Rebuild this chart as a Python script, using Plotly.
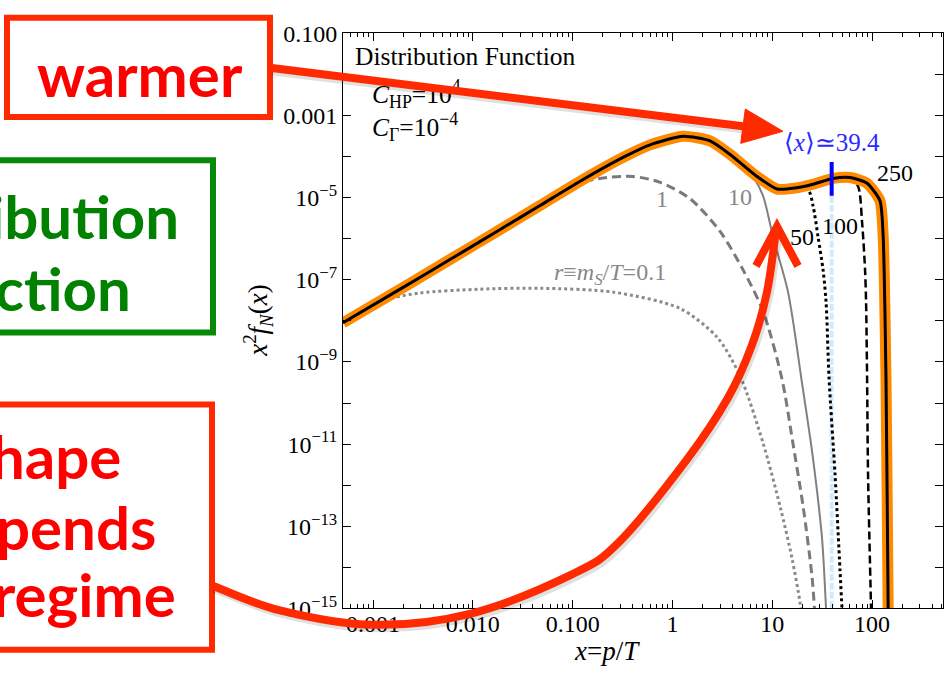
import numpy as np
import plotly.graph_objects as go

W, H = 952, 684

# ---------------- data (x = p/T, y = x^2 f_N(x)) ----------------
# outermost curve, r = 250
x_r250 = [5.0e-4, 1.87e-3, 5.9e-3, 0.0188, 0.0471, 0.119, 0.320, 0.597, 1.28, 2.38,
          3.78, 7.04, 11.2, 16.9, 25.6, 40.6, 60.2, 89.2, 120, 129, 138, 145, 148]
y_r250 = [8.95e-9, 5.9e-8, 3.1e-7, 1.67e-6, 6.4e-6, 2.5e-5, 9.5e-5, 1.92e-4, 3.1e-4, 2.39e-4,
          1.12e-4, 3.25e-5, 1.61e-5, 1.70e-5, 2.11e-5, 2.92e-5, 3.08e-5, 2.22e-5, 8.4e-6, 1.28e-6,
          3.9e-10, 1e-15, 1e-17]

# r = 0.1
x_r01 = [5.0e-4, 8.3e-4, 1.48e-3, 2.96e-3, 0.0118, 0.0471, 0.254, 1.19, 2.80, 4.75,
         8.09, 12.0, 15.8, 19.0, 20.4]
y_r01 = [8.95e-9, 1.81e-8, 3.45e-8, 4.77e-8, 5.9e-8, 6.2e-8, 5.0e-8, 2.0e-8, 4.0e-9, 4.6e-10,
         1.06e-11, 3.0e-13, 1.64e-14, 1.38e-15, 3.2e-16]

# r = 1
x_r1 = [5.0e-4, 5.9e-3, 0.0471, 0.101, 0.188, 0.403, 0.751, 1.50, 3.00, 5.10,
        8.09, 12.5, 16.1, 20.4, 25.1, 26.9]
y_r1 = [8.95e-9, 3.1e-7, 6.4e-6, 2.0e-5, 2.92e-5, 3.25e-5, 2.35e-5, 9.4e-6, 1.50e-6, 1.74e-7,
        1.71e-8, 3.9e-10, 1.06e-11, 3.0e-13, 5.6e-15, 5.5e-16]

# r = 10 (follows the r = 250 curve up to x ~ 3.8)
x_r10 = [5.0e-4, 1.87e-3, 5.9e-3, 0.0188, 0.0471, 0.119, 0.320, 0.597, 1.28, 2.38, 3.78,
         5.33, 6.42, 8.09, 10.2, 14.4, 19.9, 25.6, 31.6, 34.6, 35.4]
y_r10 = [8.95e-9, 5.9e-8, 3.1e-7, 1.67e-6, 6.4e-6, 2.5e-5, 9.5e-5, 1.92e-4, 3.1e-4, 2.39e-4, 1.12e-4,
         5.6e-5, 3.25e-5, 1.10e-5, 1.09e-6, 5.0e-8, 3.0e-10, 4.5e-12, 4.8e-14, 1e-15, 3.2e-16]

# r = 50 (branches off near x ~ 17)
x_r50 = [1.28, 2.38, 3.78, 7.04, 11.2, 16.9, 22.9, 25.6, 28.8, 32.3, 34.6, 37.1, 42.6, 47.8, 50.0, 51.2]
y_r50 = [3.1e-4, 2.39e-4, 1.12e-4, 3.25e-5, 1.61e-5, 1.70e-5, 1.53e-5, 6.4e-6, 1.09e-6, 1.74e-7,
         2.94e-8, 3.9e-10, 1.8e-12, 8.2e-15, 1e-15, 3.2e-16]

# r = 100 (branches off near x ~ 60)
x_r100 = [11.2, 16.9, 25.6, 40.6, 60.2, 72.4, 79.4, 85.1, 87.1, 89.2, 91.2, 97.7, 98.5]
y_r100 = [1.61e-5, 1.70e-5, 2.11e-5, 2.92e-5, 3.08e-5, 1.89e-5, 2.58e-6, 1.74e-7, 2.94e-8, 3.9e-10,
          1.8e-12, 1e-15, 3.2e-16]

# mean momentum marker
x_mean = 39.4
mean_tick_y = [1.10e-5, 7.3e-5]
mean_guide_y = [1.10e-5, 1e-16]

# curve labels
label_text = ["1", "10", "50", "100", "250",
              "<i>r</i>≡<i>m</i><sub><i>S</i></sub>/<i>T</i>=0.1"]
label_color = ["#888888", "#888888", "black", "black", "black", "#888888"]

x_tickvals = [1e-3, 1e-2, 1e-1, 1, 10, 100]
x_ticktext = ["0.001", "0.010", "0.100", "1", "10", "100"]
y_tickvals = [1e-1, 1e-3, 1e-5, 1e-7, 1e-9, 1e-11, 1e-13, 1e-15]
y_ticktext = ["0.100", "0.001", "10<sup>−5</sup>", "10<sup>−7</sup>", "10<sup>−9</sup>",
              "10<sup>−11</sup>", "10<sup>−13</sup>", "10<sup>−15</sup>"]

# ---------------- figure ----------------
SERIF = "Liberation Serif, Times New Roman, serif"
fig = go.Figure()

# where the curve labels sit (data coordinates)
label_x = [0.787, 4.75, 19.9, 47.8, 170, 0.237]
label_y = [8.4e-6, 9.4e-6, 9.8e-7, 1.86e-6, 3.6e-5, 1.40e-7]


def curve(xs, ys, color, width, dash="solid", smooth=0.8):
    fig.add_trace(go.Scatter(x=xs, y=ys, mode="lines",
                             line=dict(color=color, width=width, dash=dash,
                                       shape="spline", smoothing=smooth),
                             hoverinfo="skip", showlegend=False))


curve(x_r01, y_r01, "#8a8a8a", 3, "3px,3px")
curve(x_r1, y_r1, "#7a7a7a", 3, "9px,5px")
curve(x_r10, y_r10, "#808080", 2)
fig.add_trace(go.Scatter(x=[x_mean, x_mean], y=mean_guide_y, mode="lines",
                         line=dict(color="#d4e8fb", width=4, dash="7px,2px"),
                         hoverinfo="skip", showlegend=False))
curve(x_r50, y_r50, "black", 3, "3px,3px")
curve(x_r100, y_r100, "black", 2.5, "8px,4px")
curve(x_r250, y_r250, "#ff8a00", 11, smooth=0.6)
curve(x_r250, y_r250, "black", 3, smooth=0.6)
fig.add_trace(go.Scatter(x=[x_mean, x_mean], y=mean_tick_y, mode="lines",
                         line=dict(color="#0000ff", width=4),
                         hoverinfo="skip", showlegend=False))

for txt, lx, ly, col in zip(label_text, label_x, label_y, label_color):
    fig.add_trace(go.Scatter(x=[lx], y=[ly], mode="text", text=[txt],
                             textposition="middle center",
                             textfont=dict(family=SERIF, size=24, color=col),
                             hoverinfo="skip", showlegend=False))

fig.add_trace(go.Scatter(x=[x_mean], y=[1.9e-4], mode="text",
                         text=["⟨<i>x</i>⟩≃39.4"], textposition="middle center",
                         textfont=dict(family=SERIF, size=25, color="#2a2aff"),
                         hoverinfo="skip", showlegend=False))

# panel texts (kept in the trace layer so the callout arrow passes over them)
panel_x = [6.6e-4, 9.77e-4, 9.77e-4]
panel_y = [0.0246, 2.85e-3, 4.56e-4]
panel_txt = ["Distribution Function",
             "<i>C</i><sub>HP</sub>=10<sup>4</sup>",
             "<i>C</i><sub>Γ</sub>=10<sup>−4</sup>"]
fig.add_trace(go.Scatter(x=panel_x, y=panel_y, mode="text", text=panel_txt,
                         textposition="middle right",
                         textfont=dict(family=SERIF, size=25.5, color="black"),
                         hoverinfo="skip", showlegend=False))

# ---------------- axes ----------------
x0px, x1px, y0px, y1px = 343, 943, 21, 619
x_minor = [k * 10.0 ** d for d in range(-4, 3) for k in range(2, 10)
           if 5e-4 < k * 10.0 ** d < 514]
y_minor = [10.0 ** e for e in range(-14, 0, 2)]

axis_common = dict(showline=True, linecolor="black", linewidth=1, mirror="allticks",
                   ticks="inside", ticklen=8, tickwidth=1, tickcolor="black",
                   showgrid=False, zeroline=False,
                   tickfont=dict(family=SERIF, size=24, color="black"))

fig.update_xaxes(type="log", range=[np.log10(5e-4), np.log10(5e-4) + 600 / 99.8],
                 domain=[x0px / W, x1px / W], ticklabelstandoff=-6,
                 tickmode="array", tickvals=x_tickvals, ticktext=x_ticktext,
                 minor=dict(tickvals=x_minor, ticks="inside", ticklen=4, tickcolor="black"),
                 **axis_common)
fig.update_yaxes(type="log", range=[-15, -1],
                 domain=[1 - y1px / H, 1 - y0px / H],
                 tickmode="array", tickvals=y_tickvals, ticktext=y_ticktext,
                 minor=dict(tickvals=y_minor, ticks="inside", ticklen=8, tickcolor="black"),
                 **axis_common)


def P(px, py):
    return px / W, 1 - py / H


def path_str(pts):
    return "M " + " L ".join(f"{P(a, b)[0]:.5f},{P(a, b)[1]:.5f}" for a, b in pts)


def smooth_path(pts):
    pts = [np.array(p, float) for p in pts]
    n = len(pts)
    s = "M {:.5f},{:.5f}".format(*P(*pts[0]))
    for i in range(n - 1):
        p0 = pts[i - 1] if i > 0 else pts[i]
        p1, p2 = pts[i], pts[i + 1]
        p3 = pts[i + 2] if i + 2 < n else pts[i + 1]
        c1 = p1 + (p2 - p0) / 6
        c2 = p2 - (p3 - p1) / 6
        s += " C {:.5f},{:.5f} {:.5f},{:.5f} {:.5f},{:.5f}".format(*P(*c1), *P(*c2), *P(*p2))
    return s


RED = "#ff2a00"
GREEN = "#078a07"
shapes = []

# callout boxes
for (a, b, c, d), col in [((7, 5, 270, 108), RED), ((-20, 153, 213, 332), GREEN),
                          ((-20, 407, 212, 662), RED)]:
    xa, ya = P(a, b)
    xb, yb = P(c, d)
    shapes.append(dict(type="rect", xref="paper", yref="paper", x0=xa, x1=xb, y0=yb, y1=ya,
                       line=dict(color=col, width=6), fillcolor="rgba(0,0,0,0)", layer="above"))

# straight arrow from "warmer"
warm_line = [(270, 57), (745, 118)]
warm_head = [(783, 123), (745.3, 99.8), (740.7, 135.5)]
shapes.append(dict(type="path", xref="paper", yref="paper",
                   path=path_str([(x + 2, y + 3) for x, y in warm_line]),
                   line=dict(color="rgba(0,0,0,0.12)", width=9), layer="above"))
shapes.append(dict(type="path", xref="paper", yref="paper", path=path_str(warm_line),
                   line=dict(color=RED, width=8), layer="above"))
shapes.append(dict(type="path", xref="paper", yref="paper", path=path_str(warm_head) + " Z",
                   line=dict(color=RED, width=1), fillcolor=RED, layer="above"))

# curved arrow from the regime box
curve_pts = [(212, 595), (280, 621), (373, 636), (472, 624), (573, 583), (620, 549),
             (687, 464), (728, 400), (752, 345), (767, 290), (776, 226)]
shapes.append(dict(type="path", xref="paper", yref="paper",
                   path=smooth_path([(x + 2, y + 3) for x, y in curve_pts]),
                   line=dict(color="rgba(0,0,0,0.12)", width=9), layer="above"))
shapes.append(dict(type="path", xref="paper", yref="paper", path=smooth_path(curve_pts),
                   line=dict(color=RED, width=8), layer="above"))
shapes.append(dict(type="path", xref="paper", yref="paper",
                   path=path_str([(756, 263), (777, 222), (798, 263)]),
                   line=dict(color=RED, width=8), layer="above"))

# ---------------- annotations ----------------
BOLD = dict(family="Lato, Open Sans, sans-serif", size=60, weight="bold")
ann = []


def box_text(txt, px_anchor, baseline, color, anchor="right"):
    xa, ya = P(px_anchor, baseline - 19)
    ann.append(dict(text=txt, x=xa, y=ya, xref="paper", yref="paper", xanchor=anchor,
                    yanchor="middle", showarrow=False, font=dict(color=color, **BOLD)))


box_text("warmer", 140, 82, "#ff0000", anchor="center")
box_text("ibution", 181, 230, "#008200")
box_text("ction", 133, 305, "#008200")
box_text("hape", 123, 480, "#ff0000")
box_text("pends", 158, 553, "#ff0000")
box_text("regime", 178, 623, "#ff0000")

xa, ya = P(258, 320)
ann.append(dict(text="<i>x</i><sup>2</sup><i>f</i><sub><i>N</i></sub>(<i>x</i>)", x=xa, y=ya,
                xref="paper", yref="paper", xanchor="center", yanchor="middle",
                textangle=-90, showarrow=False,
                font=dict(family=SERIF, size=27, color="black")))
xa, ya = P(607, 663)
ann.append(dict(text="<i>x</i>=<i>p</i>/<i>T</i>", x=xa, y=ya, xref="paper", yref="paper",
                xanchor="center", yanchor="middle", showarrow=False,
                font=dict(family=SERIF, size=27, color="black")))

fig.update_layout(width=W, height=H, margin=dict(l=0, r=0, t=0, b=0),
                  paper_bgcolor="white", plot_bgcolor="white",
                  shapes=shapes, annotations=ann, showlegend=False)

fig.write_html("out.html")
